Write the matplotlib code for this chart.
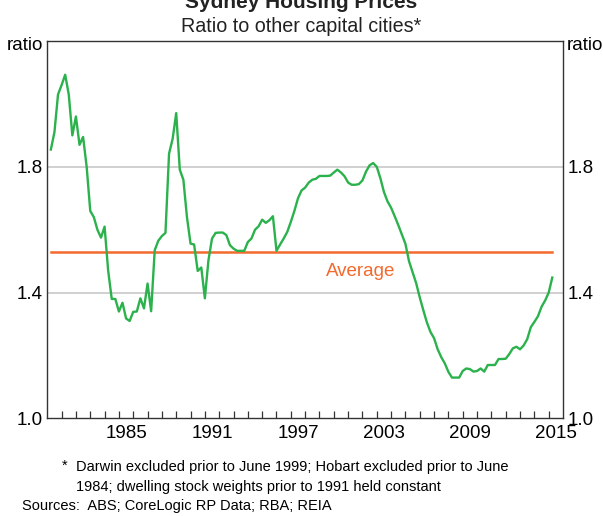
import numpy as np
import matplotlib
matplotlib.use("Agg")
from matplotlib import pyplot as plt

plt.rcParams['font.family'] = ['Liberation Sans', 'DejaVu Sans']

# quarterly ratio, first obs 1980.25, last 2015.25
ratio = [
    1.855, 1.91, 2.03,                      # 1980
    2.06, 2.093, 2.03, 1.90,                # 1981
    1.96, 1.87, 1.895, 1.80,                # 1982
    1.66, 1.64, 1.60, 1.575,                # 1983
    1.61, 1.47, 1.38, 1.38,                 # 1984
    1.34, 1.368, 1.318, 1.31,               # 1985
    1.339, 1.34, 1.382, 1.35,               # 1986
    1.429, 1.341, 1.535, 1.565,             # 1987
    1.58, 1.59, 1.842, 1.889,               # 1988
    1.971, 1.791, 1.759, 1.64,              # 1989
    1.556, 1.553, 1.469, 1.48,              # 1990
    1.382, 1.503, 1.572, 1.59,              # 1991
    1.591, 1.591, 1.583, 1.551,             # 1992
    1.54, 1.533, 1.533, 1.533,              # 1993
    1.561, 1.572, 1.60, 1.611,              # 1994
    1.632, 1.622, 1.63, 1.643,              # 1995
    1.533, 1.553, 1.572, 1.593,             # 1996
    1.625, 1.66, 1.70, 1.725,               # 1997
    1.734, 1.75, 1.759, 1.762,              # 1998
    1.771, 1.771, 1.771, 1.772,             # 1999
    1.782, 1.791, 1.782, 1.77,              # 2000
    1.75, 1.743, 1.743, 1.745,              # 2001
    1.757, 1.785, 1.805, 1.812,             # 2002
    1.80, 1.764, 1.72, 1.69,                # 2003
    1.67, 1.643, 1.615, 1.585,              # 2004
    1.555, 1.50, 1.465, 1.43,               # 2005
    1.385, 1.344, 1.305, 1.275,             # 2006
    1.255, 1.22, 1.195, 1.175,              # 2007
    1.148, 1.13, 1.13, 1.13,                # 2008
    1.151, 1.159, 1.157, 1.149,             # 2009
    1.151, 1.159, 1.149, 1.17,              # 2010
    1.17, 1.17, 1.189, 1.189,               # 2011
    1.19, 1.205, 1.223, 1.228,              # 2012
    1.22, 1.232, 1.252, 1.29,               # 2013
    1.307, 1.325, 1.355, 1.375,             # 2014
    1.40, 1.448,                            # 2015
]
dates = 1980.25 + 0.25 * np.arange(len(ratio))
average = 1.53

year_labels = ['1985', '1991', '1997', '2003', '2009', '2015']
y_ticks = [1.0, 1.4, 1.8]
y_labels = ['1.0', '1.4', '1.8']

green = '#2bb24c'
orange = '#f26a2e'
fs = 13.5

fig = plt.figure(figsize=(6.03, 5.16), dpi=100)
ax = fig.add_axes([0.0784, 0.189, 0.8553, 0.7315])

ax.set_xlim(1980, 2016)
ax.set_ylim(1.0, 2.2)

for y in [1.4, 1.8]:
    ax.axhline(y, color='#c4c4c4', lw=1.1, zorder=1)

ax.plot([dates[0], dates[-1]], [average, average], color=orange, lw=1.8, zorder=2)
ax.plot(dates, ratio, color=green, lw=1.7, zorder=3)
ax.text(2001.9, 1.468, 'Average', color=orange, fontsize=fs, ha='center', va='center')

# year labels sit in the middle of each year, ticks at year boundaries
ax.set_xticks([int(y) + 0.5 for y in year_labels])
ax.set_xticklabels(year_labels)
ax.set_xticks(np.arange(1981, 2016), minor=True)
ax.tick_params(axis='x', which='major', length=0, pad=5, labelsize=fs)
ax.tick_params(axis='x', which='minor', direction='in', length=5, width=0.9,
               color='#333333', top=False)

ax.set_yticks(y_ticks)
ax.set_yticklabels(y_labels)
ax.tick_params(axis='y', length=0, pad=3, labelsize=fs,
               left=True, right=True, labelleft=True, labelright=True)

# unit labels at the top of both axes
ax.text(-0.008, 0.987, 'ratio', transform=ax.transAxes, ha='right', va='center', fontsize=fs)
ax.text(1.008, 0.987, 'ratio', transform=ax.transAxes, ha='left', va='center', fontsize=fs)

for s in ax.spines.values():
    s.set_color('#333333')
    s.set_linewidth(1.0)

fig.text(0.5, 1 - 2 / 516, 'Sydney Housing Prices', ha='center', va='center',
         fontsize=15, fontweight='bold', color='#222222')
fig.text(0.5, 1 - 27 / 516, 'Ratio to other capital cities*', ha='center',
         va='center', fontsize=14.2, color='#222222')

fig.text(62 / 603, 1 - 466 / 516, '*', ha='left', va='center', fontsize=10.5)
fig.text(76 / 603, 1 - 467 / 516,
         'Darwin excluded prior to June 1999; Hobart excluded prior to June',
         ha='left', va='center', fontsize=10.5)
fig.text(76 / 603, 1 - 487 / 516,
         '1984; dwelling stock weights prior to 1991 held constant',
         ha='left', va='center', fontsize=10.5)
fig.text(22 / 603, 1 - 506 / 516, 'Sources:  ABS; CoreLogic RP Data; RBA; REIA',
         ha='left', va='center', fontsize=10.5)

fig.savefig('out.png', dpi=100)
